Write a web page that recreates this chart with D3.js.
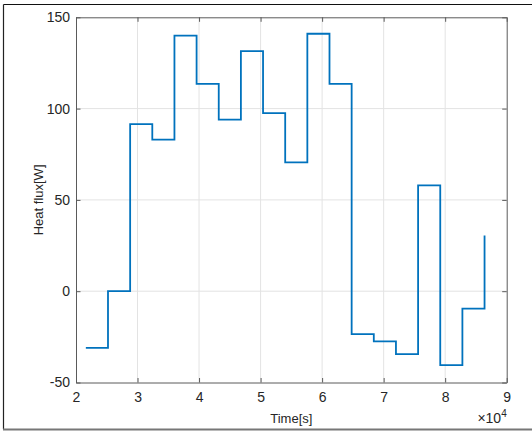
<!DOCTYPE html>
<html>
<head>
<meta charset="utf-8">
<script src="https://cdn.jsdelivr.net/npm/d3@7"></script>
<style>
  html, body { margin: 0; padding: 0; background: #fff; }
  svg { display: block; }
  text { font-family: "Liberation Sans", Arial, Helvetica, sans-serif; fill: #262626; }
</style>
</head>
<body>
<svg id="chart" width="532" height="432"></svg>
<script>
// Step times (s) and heat flux values (W)
const times = [21600, 25200, 28800, 32400, 36000, 39600, 43200, 46800, 50400, 54000,
               57600, 61200, 64800, 68400, 72000, 75600, 79200, 82800, 86400];
const values = [-31, 0, 91.5, 83, 140, 113.5, 94, 131.5, 97.5, 70.5,
                141, 113.5, -23.5, -27.5, -34.5, 58, -40.5, -9.5, 30.5];
const xTicks = [2, 3, 4, 5, 6, 7, 8, 9];       // ×10^4
const yTicks = [-50, 0, 50, 100, 150];

const svg = d3.select("#chart");
const L = 76, R = 506.7, T = 17.3, B = 382.5;

// outer frame
svg.append("line").attr("x1", 3.5).attr("x2", 532).attr("y1", 4.5).attr("y2", 4.5)
  .attr("stroke", "#111").attr("stroke-width", 1.2);
svg.append("line").attr("x1", 3.5).attr("x2", 3.5).attr("y1", 4.5).attr("y2", 429)
  .attr("stroke", "#222").attr("stroke-width", 1.2);
svg.append("line").attr("x1", 3).attr("x2", 532).attr("y1", 429.5).attr("y2", 429.5)
  .attr("stroke", "#777").attr("stroke-width", 2);

const x = d3.scaleLinear().domain([2e4, 9e4]).range([L, R]);
const y = d3.scaleLinear().domain([-50, 150]).range([B, T]);

// grid
const g = svg.append("g");
g.selectAll(".gx").data(xTicks.slice(1, -1)).join("line")
  .attr("x1", d => x(d * 1e4)).attr("x2", d => x(d * 1e4))
  .attr("y1", T).attr("y2", B).attr("stroke", "#e3e3e3").attr("stroke-width", 1);
g.selectAll(".gy").data(yTicks.slice(1, -1)).join("line")
  .attr("x1", L).attr("x2", R)
  .attr("y1", d => y(d)).attr("y2", d => y(d)).attr("stroke", "#e3e3e3").attr("stroke-width", 1);

// step line
const pts = [];
for (let i = 0; i < times.length; i++) {
  if (i > 0) pts.push([times[i], values[i - 1]]);
  pts.push([times[i], values[i]]);
}
const line = d3.line().x(d => x(d[0])).y(d => y(d[1]));
svg.append("path").datum(pts).attr("d", line)
  .attr("fill", "none").attr("stroke", "#0072BD").attr("stroke-width", 1.8)
  .attr("stroke-linejoin", "miter");

// axes box with inward ticks
const axColor = "#5a5a5a";
const tl = 4.5;
const xAxisB = d3.axisBottom(x).tickValues(xTicks.map(d => d * 1e4)).tickSizeInner(-tl).tickSizeOuter(0).tickFormat(d => String(d / 1e4));
const xAxisT = d3.axisTop(x).tickValues(xTicks.map(d => d * 1e4)).tickSizeInner(-tl).tickSizeOuter(0).tickFormat("");
const yAxisL = d3.axisLeft(y).tickValues(yTicks).tickSizeInner(-tl).tickSizeOuter(0).tickFormat(d => String(d));
const yAxisR = d3.axisRight(y).tickValues(yTicks).tickSizeInner(-tl).tickSizeOuter(0).tickFormat("");

function style(sel) {
  sel.select(".domain").attr("stroke", axColor).attr("stroke-width", 1);
  sel.selectAll(".tick line").attr("stroke", axColor).attr("stroke-width", 1);
  sel.selectAll(".tick text").attr("fill", "#262626").style("font-size", "14px")
    .style("font-family", '"Liberation Sans", Arial, sans-serif');
}
const gb = svg.append("g").attr("transform", `translate(0,${B})`).call(xAxisB).call(style);
gb.selectAll(".tick text").attr("y", 10);
const gt = svg.append("g").attr("transform", `translate(0,${T})`).call(xAxisT).call(style);
const gl = svg.append("g").attr("transform", `translate(${L},0)`).call(yAxisL).call(style);
gl.selectAll(".tick text").attr("x", -6);
const gr = svg.append("g").attr("transform", `translate(${R},0)`).call(yAxisR).call(style);

// labels
svg.append("text").attr("x", (L + R) / 2).attr("y", 423).attr("text-anchor", "middle")
  .style("font-size", "13px").text("Time[s]");
svg.append("text").attr("transform", `translate(43,${(T + B) / 2}) rotate(-90)`)
  .attr("text-anchor", "middle").style("font-size", "13px").text("Heat flux[W]");
const ex = svg.append("text").attr("x", R).attr("y", 423).attr("text-anchor", "end")
  .style("font-size", "14px");
ex.append("tspan").text("\u00d710");
ex.append("tspan").attr("dy", -6).style("font-size", "10px").text("4");
</script>
</body>
</html>
